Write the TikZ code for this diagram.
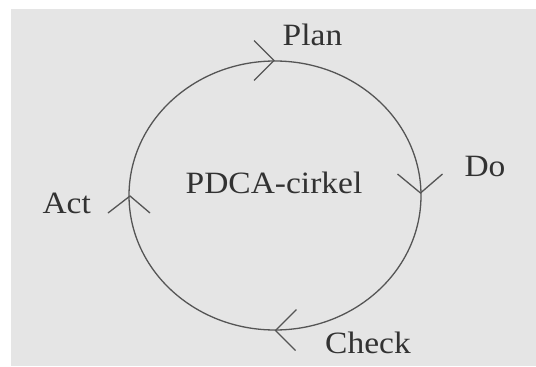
\documentclass[tikz,border=0pt]{standalone}
\usepackage{fontspec}
\usetikzlibrary{calc}
\setmainfont{Liberation Serif}[FakeStretch=1.08]
\definecolor{bggray}{RGB}{229,229,229}
\definecolor{linegray}{RGB}{85,85,85}
\definecolor{textgray}{RGB}{50,50,50}
\begin{document}
\begin{tikzpicture}[x=1pt,y=-1pt,
  lbl/.style={anchor=base,inner sep=0pt,text=textgray,font=\fontsize{31}{31}\selectfont},
  ring/.style={draw=linegray,line width=1.3pt},
  chev/.style={draw=linegray,line width=1.3pt,line join=miter}]
\useasboundingbox (0,0) rectangle (536,367);
\fill[white] (0,0) rectangle (536,367);
\fill[bggray] (11,9) rectangle (536,366);
\draw[ring] (275,195.5) ellipse [x radius=146, y radius=134.5];
% chevrons
\coordinate (tP) at (274,60.5);
\coordinate (tD) at (420.5,193);
\coordinate (tC) at (275.5,330.5);
\coordinate (tA) at (130,196);
\draw[chev] ($(tP)+(-20,-20)$) -- (tP) -- ($(tP)+(-20,20)$);
\draw[chev] ($(tD)+(-23,-19)$) -- (tD) -- ($(tD)+(22,-19)$);
\draw[chev] ($(tC)+(21,-21)$) -- (tC) -- ($(tC)+(20,20)$);
\draw[chev] ($(tA)+(-22,17)$) -- (tA) -- ($(tA)+(20,17)$);
\node[lbl] (plan) at (312.5,45) {Plan};
\node[lbl] (do) at (485,176.7) {Do};
\node[lbl] (check) at (368,353.3) {Check};
\node[lbl] (act) at (66.7,213.3) {Act};
\node[lbl] (pdca) at (274,193.3) {PDCA-cirkel};
\end{tikzpicture}
\end{document}
